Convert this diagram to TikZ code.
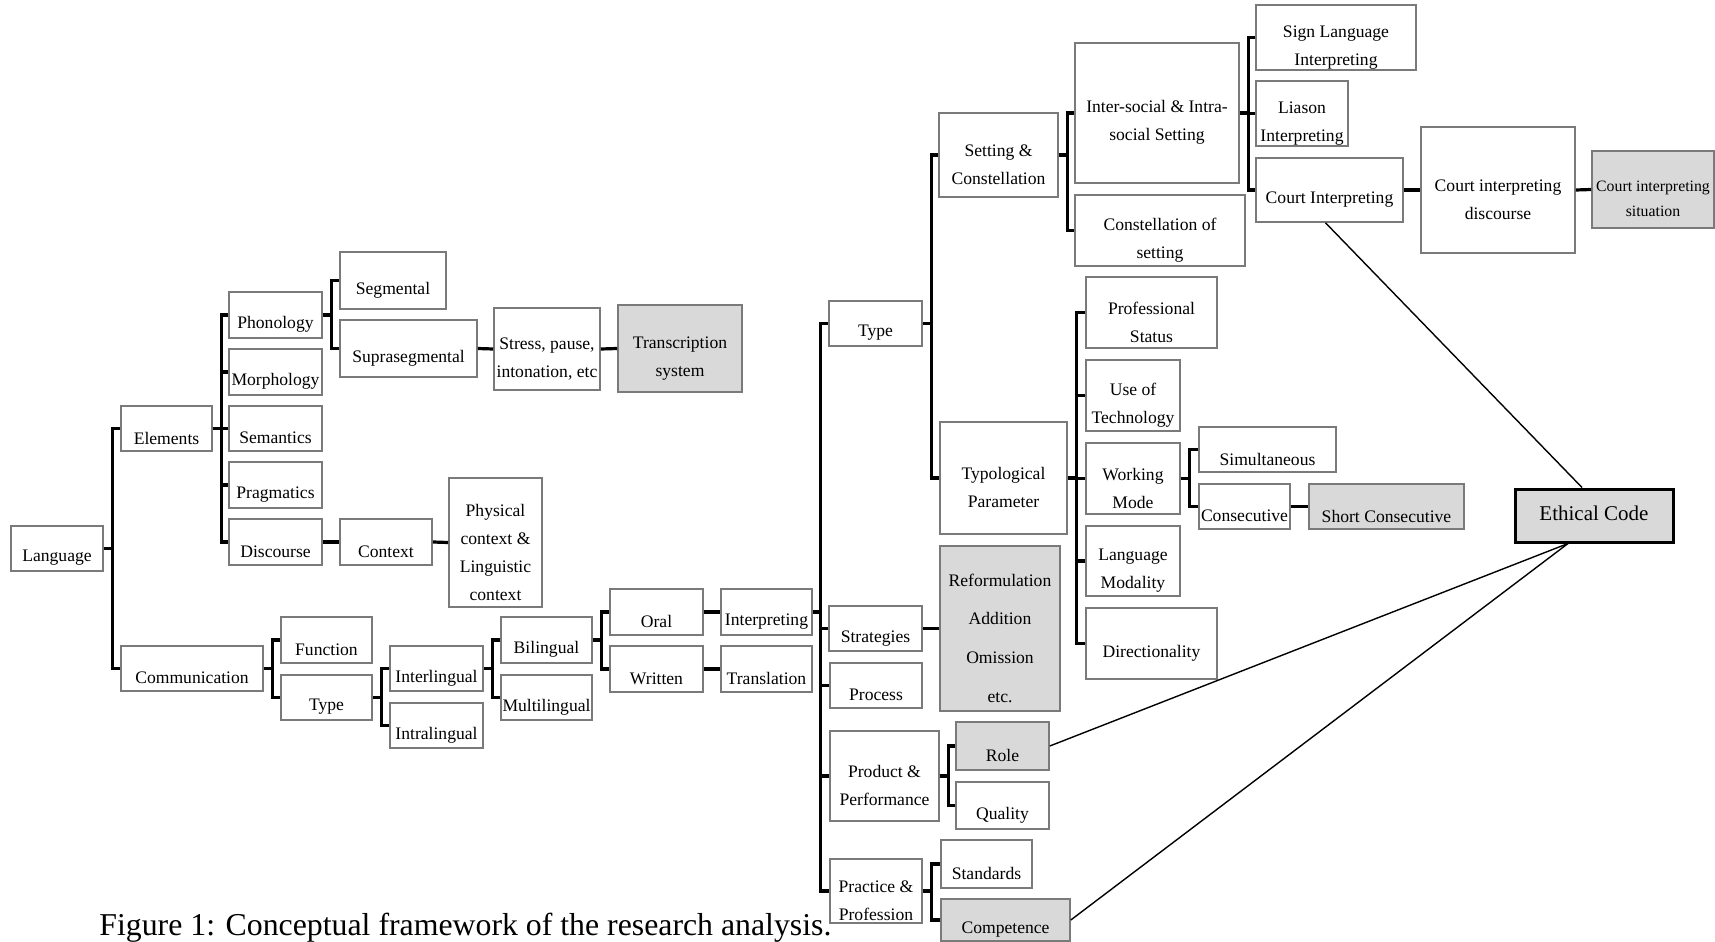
\documentclass[tikz,border=0pt]{standalone}
\usepackage{fontspec}
\setmainfont{Liberation Serif}
\usetikzlibrary{fit}
\definecolor{boxfill}{HTML}{D9D9D9}
\definecolor{boxline}{HTML}{7A7A7A}
\tikzset{
  box/.style={draw=boxline, line width=0.8pt, inner sep=0pt, fill=white},
  greybox/.style={box, fill=boxfill},
  lbl/.style={yshift=-4.8pt, align=center, inner sep=0pt, font=\fontsize{8.8}{14}\selectfont},
  conn/.style={line width=1.6pt},
  link/.style={line width=0.7pt}
}
\begin{document}
\begin{tikzpicture}[x=0.5pt, y=-0.5pt]
  \useasboundingbox (0,0) rectangle (1715,942);

  % language branch
  \node[box, fit={(11,526) (103,571)}, label={[lbl]center:Language}] (language) {};
  \node[box, fit={(121,406) (212,451)}, label={[lbl]center:Elements}] (elements) {};
  \node[box, fit={(229,292) (322,338)}, label={[lbl]center:Phonology}] (phonology) {};
  \node[box, fit={(229,349) (322,395)}, label={[lbl]center:Morphology}] (morphology) {};
  \node[box, fit={(229,406) (322,451)}, label={[lbl]center:Semantics}] (semantics) {};
  \node[box, fit={(229,462) (322,508)}, label={[lbl]center:Pragmatics}] (pragmatics) {};
  \node[box, fit={(229,519) (322,565)}, label={[lbl]center:Discourse}] (discourse) {};
  \node[box, fit={(340,252) (446,309)}, label={[lbl]center:Segmental}] (segmental) {};
  \node[box, fit={(340,320) (477,377)}, label={[lbl]center:Suprasegmental}] (suprasegmental) {};
  \node[box, fit={(494,308) (600,390)}, label={[lbl]center:{Stress, pause,\\intonation, etc}}] (stress) {};
  \node[greybox, fit={(618,305) (742,392)}, label={[lbl]center:{Transcription\\system}}] (transcription) {};
  \node[box, fit={(340,519) (432,565)}, label={[lbl]center:Context}] (context) {};
  \node[box, fit={(449,478) (542,607)}, label={[lbl]center:{Physical\\context \&\\Linguistic\\context}}] (physical) {};

  % communication branch
  \node[box, fit={(121,646) (263,691)}, label={[lbl]center:Communication}] (communication) {};
  \node[box, fit={(281,617) (372,663)}, label={[lbl]center:Function}] (function) {};
  \node[box, fit={(281,675) (372,720)}, label={[lbl]center:Type}] (ctype) {};
  \node[box, fit={(390,646) (483,691)}, label={[lbl]center:Interlingual}] (interlingual) {};
  \node[box, fit={(390,703) (483,748)}, label={[lbl]center:Intralingual}] (intralingual) {};
  \node[box, fit={(501,617) (592,663)}, label={[lbl]center:Bilingual}] (bilingual) {};
  \node[box, fit={(501,675) (592,720)}, label={[lbl]center:Multilingual}] (multilingual) {};
  \node[box, fit={(610,589) (703,635)}, label={[lbl]center:Oral}] (oral) {};
  \node[box, fit={(610,646) (703,692)}, label={[lbl]center:Written}] (written) {};
  \node[box, fit={(721,589) (812,635)}, label={[lbl]center:Interpreting}] (interpreting) {};
  \node[box, fit={(721,646) (812,692)}, label={[lbl]center:Translation}] (translation) {};

  % interpreting branch
  \node[box, fit={(829,301) (922,346)}, label={[lbl]center:Type}] (itype) {};
  \node[box, fit={(939,113) (1058,197)}, label={[lbl]center:{Setting \&\\Constellation}}] (setting) {};
  \node[box, fit={(1075,43) (1239,183)}, label={[lbl]center:{Inter-social \& Intra-\\social Setting}}] (intersocial) {};
  \node[box, fit={(1075,195) (1245,266)}, label={[lbl]center:{Constellation of\\setting}}] (constellation) {};
  \node[box, fit={(1256,5) (1416,70)}, label={[lbl]center:{Sign Language\\Interpreting}}] (signlang) {};
  \node[box, fit={(1256,81) (1348,146)}, label={[lbl]center:{Liason\\Interpreting}}] (liason) {};
  \node[box, fit={(1256,158) (1403,222)}, label={[lbl]center:Court Interpreting}] (court) {};
  \node[box, fit={(1421,127) (1575,253)}, label={[lbl]center:{Court interpreting\\discourse}}] (courtdisc) {};
  \node[greybox, fit={(1592,151) (1714,228)}, label={[lbl, font=\fontsize{7.9}{12.5}\selectfont]center:{Court interpreting\\situation}}] (courtsit) {};
  \node[box, fit={(940,422) (1067,534)}, label={[lbl]center:{Typological\\Parameter}}] (typological) {};
  \node[box, fit={(1086,277) (1217,348)}, label={[lbl]center:{Professional\\Status}}] (profstatus) {};
  \node[box, fit={(1086,360) (1180,431)}, label={[lbl]center:{Use of\\Technology}}] (technology) {};
  \node[box, fit={(1086,443) (1180,514)}, label={[lbl]center:{Working\\Mode}}] (workmode) {};
  \node[box, fit={(1086,526) (1180,596)}, label={[lbl]center:{Language\\Modality}}] (modality) {};
  \node[box, fit={(1086,608) (1217,679)}, label={[lbl]center:Directionality}] (direction) {};
  \node[box, fit={(1199,427) (1336,472)}, label={[lbl]center:Simultaneous}] (simultaneous) {};
  \node[box, fit={(1199,484) (1290,529)}, label={[lbl]center:Consecutive}] (consecutive) {};
  \node[greybox, fit={(1309,484) (1464,529)}, label={[lbl]center:Short Consecutive}] (shortcons) {};
  \node[box, fit={(829,606) (922,651)}, label={[lbl]center:Strategies}] (strategies) {};
  \node[greybox, fit={(940,546) (1060,711)}, label={[lbl, font=\fontsize{8.8}{19.3}\selectfont]center:{Reformulation\\Addition\\Omission\\etc.}}] (reformulation) {};
  \node[box, fit={(830,663) (922,708)}, label={[lbl]center:Process}] (process) {};
  \node[box, fit={(830,731) (939,821)}, label={[lbl]center:{Product \&\\Performance}}] (product) {};
  \node[greybox, fit={(956,722) (1049,770)}, label={[lbl]center:Role}] (role) {};
  \node[box, fit={(956,782) (1049,829)}, label={[lbl]center:Quality}] (quality) {};
  \node[box, fit={(830,859) (922,923)}, label={[lbl]center:{Practice \&\\Profession}}] (practice) {};
  \node[box, fit={(941,840) (1032,888)}, label={[lbl]center:Standards}] (standards) {};
  \node[greybox, fit={(941,899) (1070,941)}, label={[lbl]center:Competence}] (competence) {};
  \node[greybox, draw=black, line width=1.5pt, fit={(1515,489) (1673,542)}, label={[align=center, yshift=1pt, font=\fontsize{10.5}{13}\selectfont]center:Ethical Code}] (ethical) {};

  % caption
  \node[anchor=base west, inner sep=0pt, font=\fontsize{15.9}{19}\selectfont] (caption) at (99,935) {Figure 1: Conceptual framework of the research analysis.};

  % brackets, language side
  \draw[conn] (language.east) -- ++(8.5,0) |- (elements.west);
  \draw[conn] (language.east) -- ++(8.5,0) |- (communication.west);
  \draw[conn] (elements.east) -- ++(8.5,0) |- (phonology.west);
  \draw[conn] (elements.east) -- ++(8.5,0) |- (morphology.west);
  \draw[conn] (elements.east) -- ++(8.5,0) |- (semantics.west);
  \draw[conn] (elements.east) -- ++(8.5,0) |- (pragmatics.west);
  \draw[conn] (elements.east) -- ++(8.5,0) |- (discourse.west);
  \draw[conn] (phonology.east) -- ++(8.5,0) |- (segmental.west);
  \draw[conn] (phonology.east) -- ++(8.5,0) |- (suprasegmental.west);
  \draw[conn] (suprasegmental.east) -- (stress.west);
  \draw[conn] (stress.east) -- (transcription.west);
  \draw[conn] (discourse.east) -- (context.west);
  \draw[conn] (context.east) -- (physical.west);
  \draw[conn] (communication.east) -- ++(8.5,0) |- (function.west);
  \draw[conn] (communication.east) -- ++(8.5,0) |- (ctype.west);
  \draw[conn] (ctype.east) -- ++(8.5,0) |- (interlingual.west);
  \draw[conn] (ctype.east) -- ++(8.5,0) |- (intralingual.west);
  \draw[conn] (interlingual.east) -- ++(8.5,0) |- (bilingual.west);
  \draw[conn] (interlingual.east) -- ++(8.5,0) |- (multilingual.west);
  \draw[conn] (bilingual.east) -- ++(8.5,0) |- (oral.west);
  \draw[conn] (bilingual.east) -- ++(8.5,0) |- (written.west);
  \draw[conn] (oral.east) -- (interpreting.west);
  \draw[conn] (written.east) -- (translation.west);

  % brackets, interpreting side
  \draw[conn] (interpreting.east) -- ++(8,0) |- (itype.west);
  \draw[conn] (interpreting.east) -- ++(8,0) |- (strategies.west);
  \draw[conn] (interpreting.east) -- ++(8,0) |- (process.west);
  \draw[conn] (interpreting.east) -- ++(8,0) |- (product.west);
  \draw[conn] (interpreting.east) -- ++(8,0) |- (practice.west);
  \draw[conn] (itype.east) -- ++(8.5,0) |- (setting.west);
  \draw[conn] (itype.east) -- ++(8.5,0) |- (typological.west);
  \draw[conn] (setting.east) -- ++(8.5,0) |- (intersocial.west);
  \draw[conn] (setting.east) -- ++(8.5,0) |- (constellation.west);
  \draw[conn] (intersocial.east) -- ++(8.5,0) |- (signlang.west);
  \draw[conn] (intersocial.east) -- ++(8.5,0) |- (liason.west);
  \draw[conn] (intersocial.east) -- ++(8.5,0) |- (court.west);
  \draw[conn] (court.east) -- (courtdisc.west);
  \draw[conn] (courtdisc.east) -- (courtsit.west);
  \draw[conn] (typological.east) -- ++(9,0) |- (profstatus.west);
  \draw[conn] (typological.east) -- ++(9,0) |- (technology.west);
  \draw[conn] (typological.east) -- ++(9,0) |- (workmode.west);
  \draw[conn] (typological.east) -- ++(9,0) |- (modality.west);
  \draw[conn] (typological.east) -- ++(9,0) |- (direction.west);
  \draw[conn] (workmode.east) -- ++(9,0) |- (simultaneous.west);
  \draw[conn] (workmode.east) -- ++(9,0) |- (consecutive.west);
  \draw[conn] (consecutive.east) -- (shortcons.west);
  \draw[conn] (strategies.east) -- (reformulation.west);
  \draw[conn] (product.east) -- ++(8.5,0) |- (role.west);
  \draw[conn] (product.east) -- ++(8.5,0) |- (quality.west);
  \draw[conn] (practice.east) -- ++(9,0) |- (standards.west);
  \draw[conn] (practice.east) -- ++(9,0) |- (competence.west);

  % links to ethical code
  \draw[link] ([xshift=-2pt]court.south) -- ([xshift=-6pt]ethical.north);
  \draw[link] (role.east) -- ([xshift=-13pt]ethical.south);
  \draw[link] (competence.east) -- ([xshift=-13pt]ethical.south);
\end{tikzpicture}
\end{document}
